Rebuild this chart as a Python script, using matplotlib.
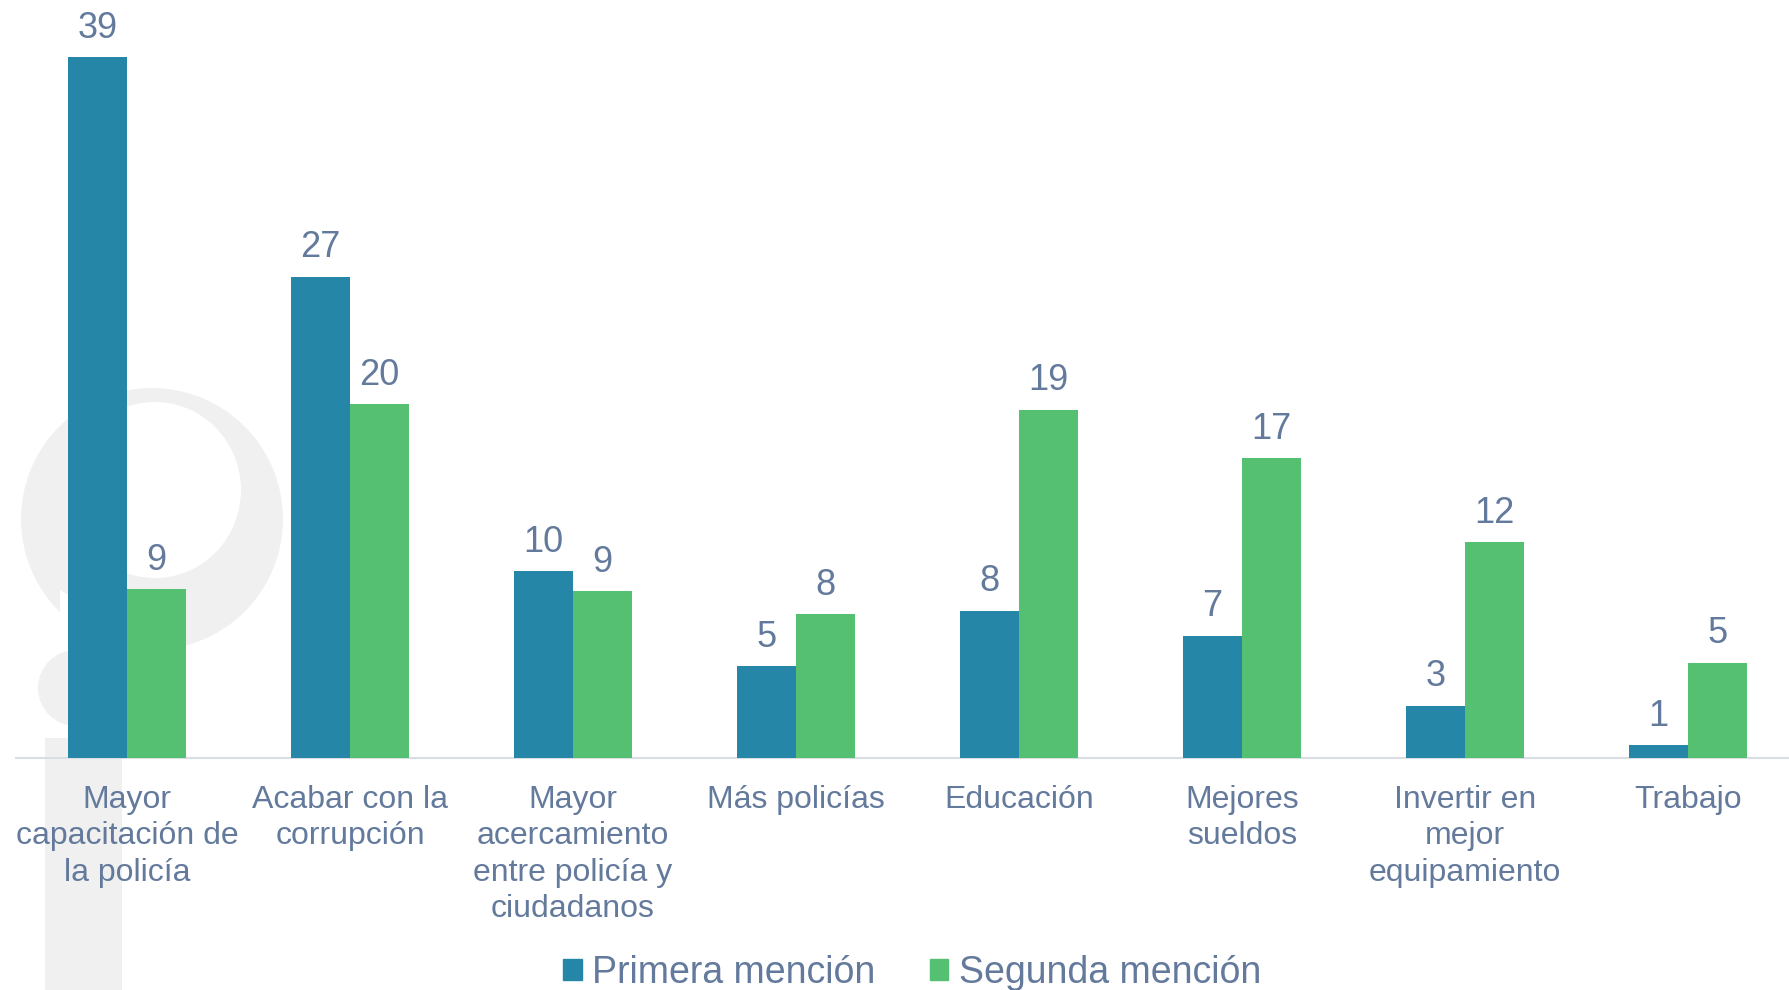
import matplotlib.pyplot as plt
import numpy as np
from matplotlib.patches import Circle, Ellipse, Rectangle, Polygon, Patch

# chart data (bar heights, labels are rounded)
categorias = ['Mayor\ncapacitación de\nla policía', 'Acabar con la\ncorrupción',
              'Mayor\nacercamiento\nentre policía y\nciudadanos', 'Más policías',
              'Educación', 'Mejores\nsueldos', 'Invertir en\nmejor\nequipamiento', 'Trabajo']
primera = [39.0, 26.8, 10.4, 5.1, 8.2, 6.8, 2.9, 0.7]
segunda = [9.4, 19.7, 9.3, 8.0, 19.4, 16.7, 12.0, 5.3]
series = ['Primera mención', 'Segunda mención']

azul = '#2686a8'
verde = '#55c072'
texto = '#637a9c'
marca = '#f0f0f0'

plt.rcParams['font.family'] = ['Liberation Sans', 'DejaVu Sans']

fig = plt.figure(figsize=(17.9, 9.9), dpi=100)

# watermark in pixel space
bg = fig.add_axes([0, 0, 1, 1], zorder=0)
bg.set_xlim(0, 1790)
bg.set_ylim(990, 0)
bg.axis('off')
bg.add_patch(Circle((152, 519), 131, color=marca, lw=0))
bg.add_patch(Ellipse((155, 490), 172, 176, color='white', lw=0))
bg.add_patch(Polygon([[60, 590], [150, 640], [60, 660]], closed=True, color='white', lw=0))
bg.add_patch(Polygon([[150, 630], [205, 585], [185, 640], [168, 665]], closed=True, color=marca, lw=0))
bg.add_patch(Circle((76, 688), 38, color=marca, lw=0))
bg.add_patch(Rectangle((45, 738), 77, 260, color=marca, lw=0))

ax = fig.add_axes([15.5 / 1790, 232 / 990, 1784 / 1790, 758 / 990], zorder=1)
ax.patch.set_alpha(0)

x = np.arange(len(categorias))
w = 0.265
b1 = ax.bar(x - w / 2, primera, w, color=azul, label=series[0], zorder=3)
b2 = ax.bar(x + w / 2, segunda, w, color=verde, label=series[1], zorder=3)

for bars in (b1, b2):
    for r in bars:
        ax.annotate(f'{r.get_height():.0f}', (r.get_x() + r.get_width() / 2, r.get_height()),
                    xytext=(0, 14), textcoords='offset points', ha='center', va='baseline',
                    fontsize=26, color=texto)

ax.set_xlim(-0.5, 7.5)
ax.set_ylim(0, 42.2)
ax.set_yticks([])
ax.set_xticks(x)
ax.set_xticklabels(categorias, fontsize=23, color=texto, linespacing=1.27)
ax.tick_params(axis='x', length=0, pad=19.5)
for s in ['top', 'right', 'left']:
    ax.spines[s].set_visible(False)
ax.spines['bottom'].set_color('#d9dee5')
ax.spines['bottom'].set_linewidth(1.5)

handles = [Patch(color=azul), Patch(color=verde)]
fig.legend(handles, series, loc='center', bbox_to_anchor=(912 / 1790, 1 - 973 / 990), ncol=2,
           frameon=False, handlelength=0.5, handleheight=0.5, handletextpad=0.27,
           columnspacing=1.45, fontsize=27, labelcolor=texto)

fig.savefig('out.png', dpi=100)
